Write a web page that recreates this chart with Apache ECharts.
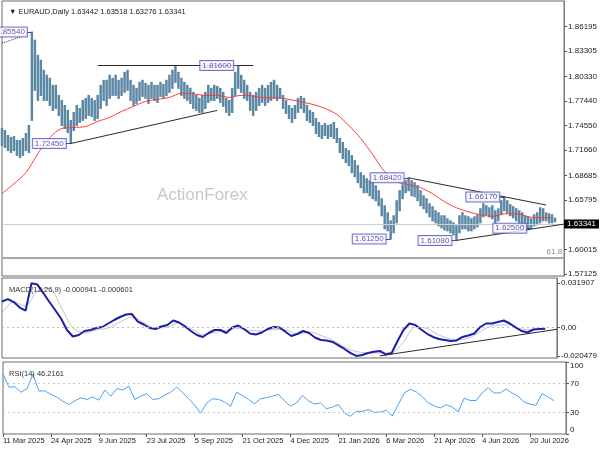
<!DOCTYPE html>
<html><head><meta charset="utf-8">
<script src="https://cdn.jsdelivr.net/npm/echarts@6/dist/echarts.min.js"></script>
<style>html,body{margin:0;padding:0;background:#fff}#c{width:600px;height:450px}</style>
</head><body><div id="c"></div>
<script>
const symbolName = 'EURAUD,Daily';
const lastOHLC = ['1.63442', '1.63518', '1.63276', '1.63341'];
const macdLast = ['-0.000941', '-0.000601'];
const rsiLast = '46.2161';
const dateTicks = ['11 Mar 2025', '24 Apr 2025', '9 Jun 2025', '23 Jul 2025', '5 Sep 2025', '21 Oct 2025', '4 Dec 2025', '21 Jan 2026', '6 Mar 2026', '21 Apr 2026', '4 Jun 2026', '20 Jul 2026'];
const priceTicks = [1.57125, 1.60015, 1.62905, 1.65795, 1.68685, 1.71660, 1.74550, 1.77440, 1.80330, 1.83305, 1.86195];
const macdTicks = [-0.020479, 0, 0.031907];
const rsiTicks = [0, 30, 70, 100];

// one bar = two trading days
const priceHigh = [1.7422,1.7398,1.7339,1.7316,1.7327,1.7280,1.7280,1.7304,1.7363,1.7457,
1.8554,1.8458,1.8281,1.8223,1.8105,1.8046,1.8011,1.7928,1.7928,1.7810,
1.7751,1.7692,1.7634,1.7516,1.7610,1.7692,1.7657,1.7751,1.7775,1.7810,
1.7775,1.7751,1.7810,1.7928,1.7987,1.7987,1.8046,1.8011,1.8046,1.7987,
1.8011,1.8081,1.8105,1.7987,1.7928,1.7893,1.7963,1.7987,1.7952,1.7928,
1.7963,1.7928,1.7928,1.7963,1.7940,1.7987,1.8046,1.8105,1.8160,1.8081,
1.8011,1.7963,1.7928,1.7893,1.7846,1.7810,1.7775,1.7810,1.7846,1.7928,
1.7893,1.7928,1.7916,1.7893,1.7846,1.7775,1.7751,1.7893,1.8081,1.8160,
1.8046,1.7987,1.7928,1.7846,1.7810,1.7846,1.7893,1.7928,1.7893,1.7928,
1.7963,1.7987,1.7928,1.7893,1.7810,1.7751,1.7692,1.7657,1.7692,1.7775,
1.7798,1.7775,1.7692,1.7634,1.7610,1.7539,1.7493,1.7457,1.7481,1.7457,
1.7469,1.7493,1.7422,1.7304,1.7257,1.7186,1.7162,1.7104,1.7045,1.6986,
1.6903,1.6868,1.6832,1.6809,1.6785,1.6750,1.6691,1.6597,1.6515,1.6432,
1.6338,1.6397,1.6574,1.6691,1.6762,1.6809,1.6842,1.6809,1.6785,1.6750,
1.6691,1.6632,1.6597,1.6538,1.6503,1.6456,1.6432,1.6397,1.6397,1.6362,
1.6338,1.6314,1.6279,1.6397,1.6432,1.6397,1.6385,1.6362,1.6385,1.6409,
1.6480,1.6538,1.6515,1.6491,1.6515,1.6456,1.6480,1.6574,1.6617,1.6574,
1.6527,1.6503,1.6480,1.6456,1.6432,1.6397,1.6385,1.6362,1.6409,1.6432,
1.6491,1.6480,1.6432,1.6420,1.6409,1.6370];
const priceLow = [1.7221,1.7198,1.7162,1.7139,1.7162,1.7104,1.7080,1.7104,1.7162,1.7139,
1.7516,1.7869,1.7751,1.7810,1.7751,1.7751,1.7692,1.7634,1.7657,1.7575,
1.7457,1.7422,1.7375,1.7245,1.7398,1.7457,1.7493,1.7516,1.7539,1.7575,
1.7563,1.7516,1.7539,1.7657,1.7751,1.7692,1.7775,1.7810,1.7810,1.7775,
1.7810,1.7846,1.7869,1.7751,1.7692,1.7716,1.7751,1.7798,1.7775,1.7716,
1.7775,1.7751,1.7728,1.7798,1.7775,1.7810,1.7846,1.7893,1.7963,1.7893,
1.7810,1.7775,1.7751,1.7716,1.7657,1.7634,1.7610,1.7610,1.7657,1.7728,
1.7751,1.7751,1.7775,1.7728,1.7681,1.7610,1.7575,1.7610,1.7810,1.7893,
1.7846,1.7775,1.7751,1.7634,1.7575,1.7634,1.7692,1.7728,1.7692,1.7728,
1.7751,1.7775,1.7751,1.7775,1.7657,1.7598,1.7539,1.7493,1.7539,1.7610,
1.7657,1.7610,1.7516,1.7493,1.7457,1.7363,1.7327,1.7304,1.7339,1.7304,
1.7327,1.7304,1.7257,1.7139,1.7068,1.7021,1.6986,1.6903,1.6856,1.6785,
1.6726,1.6668,1.6668,1.6632,1.6597,1.6574,1.6515,1.6397,1.6244,1.6220,
1.6125,1.6197,1.6314,1.6456,1.6597,1.6668,1.6691,1.6632,1.6621,1.6574,
1.6515,1.6480,1.6432,1.6385,1.6338,1.6314,1.6279,1.6256,1.6232,1.6220,
1.6197,1.6173,1.6108,1.6197,1.6244,1.6244,1.6220,1.6220,1.6244,1.6267,
1.6314,1.6385,1.6409,1.6385,1.6362,1.6314,1.6338,1.6409,1.6456,1.6432,
1.6397,1.6373,1.6338,1.6314,1.6267,1.6267,1.6256,1.6250,1.6279,1.6291,
1.6314,1.6338,1.6338,1.6314,1.6314,1.6328];

// moving average, one value every 4 bars
const maValues = [1.6656,1.6774,1.6903,1.7127,1.7315,1.7422,1.7433,1.7445,1.7504,1.7551,
1.7622,1.7681,1.7740,1.7763,1.7787,1.7834,1.7828,1.7810,1.7810,1.7787,
1.7810,1.7804,1.7781,1.7781,1.7763,1.7734,1.7704,1.7657,1.7586,1.7457,
1.7304,1.7115,1.6915,1.6797,1.6762,1.6727,1.6656,1.6562,1.6491,1.6444,
1.6409,1.6391,1.6420,1.6420,1.6385,1.6373,1.6373];

// MACD main line, one value every 2 bars
const macdValues = [0.01872,0.02052,0.01836,0.0144,0.01224,0.031907,0.03096,0.02484,0.01858,0.0126,
0.00648,-0.0018,-0.00648,-0.0054,-0.00252,-0.0018,-0.00036,0.00036,0.00288,0.0054,
0.00756,0.00936,0.00972,0.00418,0.00216,-0.00036,-0.00108,0.00072,0.0018,0.00504,
0.0036,0.00072,-0.00252,-0.0054,-0.00684,-0.00396,-0.0018,-0.0018,-0.00396,0,
0.00144,-0.00108,-0.00432,-0.00504,-0.0036,-0.00108,0.00036,0,-0.00302,-0.00612,
-0.00468,-0.00252,-0.00396,-0.0072,-0.009,-0.00936,-0.01044,-0.01296,-0.01548,-0.01836,
-0.020479,-0.0198,-0.01836,-0.01742,-0.01692,-0.01944,-0.01836,-0.00972,-0.0018,0.00288,
0.0018,-0.00144,-0.00454,-0.00684,-0.00828,-0.009,-0.00972,-0.00936,-0.00684,-0.00576,
-0.00432,0.00036,0.00288,0.00288,0.00396,0.00504,0.00288,0.00014,-0.00252,-0.0036,
-0.00144,-0.00108,-0.000941];
// MACD signal line, one value every 4 bars
const signalValues = [0.01044,0.01836,0.01548,0.0265,0.0282,0.01476,-0.00036,-0.00396,-0.0018,-0.00036,
0.00396,0.00756,0.0036,-0.00036,0.00036,0.00324,-0.00072,-0.00504,-0.0036,-0.00216,
-0.00072,-0.00216,-0.00252,-0.00144,-0.0018,-0.00468,-0.00324,-0.00576,-0.009,-0.01404,
-0.01728,-0.01836,-0.01836,-0.01836,-0.01044,0.00036,-0.00072,-0.0054,-0.00828,-0.00864,
-0.00576,-0.00036,0.0018,0.0018,-0.00108,-0.0018,-0.000601];
// RSI(14), one value every 2 bars
const rsiValues = [83,65,65.5,58,63,83,59.6,60,55,51,
45.5,41,46,50.3,48,51.5,47,61,52.5,63,
61,66.6,48,52.5,56,48,49,54,58,65,
57.3,49,40,29.1,43,49,48,44.5,38.5,58,
53.5,47.9,42,49,50.5,52.5,55,46,38.5,43,
53.5,46,41.5,43.2,35,37.5,40.8,29.5,24.5,31.5,
31.5,33.8,30,30.5,33,25,41,57,62,58.5,
52,43,39,36.2,40.5,37.5,31,49.5,46.5,46.5,
57,64.3,57,57,62.5,57,52.5,44.5,41.5,40,
56,51.5,46.2161];

const annText = ['1.85540', '1.72450', '1.81600', '1.68420', '1.61250', '1.61080', '1.66170', '1.62500'];
const annBar = [10, 23, 79, 136, 130, 152, 168, 177];
const annPrice = [1.8554, 1.7245, 1.8160, 1.6842, 1.6125, 1.6108, 1.6617, 1.6250];

const supportLine = [[23, 1.7245], [72, 1.7634]];
const topLine = [[32, 1.8165], [84, 1.8165]];
const oldLine = [[0, 1.8423], [8, 1.8517]];
const fallingLine = [[136, 1.6842], [182, 1.6523]];
const risingLine = [[152, 1.6108], [188, 1.6299]];
const macdLine = [[128, -0.0205], [188, -0.0013]];
const lastPrice = 1.63341;
const fibLevel = 1.5902;
const fibText = '61.8';

const slotCount = 189;
const tickEvery = 16;
const categories = Array.from({length: slotCount}, (_, i) => 'b' + i);

const FONT = 'Liberation Sans';
const chart = echarts.init(document.getElementById('c'), null, {renderer: 'canvas'});

const barData = priceHigh.map((h, i) => [i, priceLow[i], h]);
const stepData = (arr, step) => arr.map((v, k) => [k * step, v]);
const seg = (pair, extra) => [Object.assign({coord: pair[0]}, extra || {}), {coord: pair[1]}];
const trendStyle = {lineStyle: {color: '#2a2a2a', width: 1, type: 'solid'}};

function xAx(g, showLabels) {
  return {
    type: 'category', gridIndex: g, data: categories, boundaryGap: false,
    axisLine: {show: false},
    axisTick: {show: showLabels, interval: (i) => i % tickEvery === 0, length: 3, inside: false,
      lineStyle: {color: '#555'}},
    axisLabel: {show: showLabels, interval: (i) => i % tickEvery === 0,
      formatter: (v, i) => dateTicks[i / tickEvery] || '',
      align: 'left', fontSize: 7.5, color: '#202020', margin: 3, fontFamily: FONT},
    splitLine: {show: false}
  };
}
const yCommon = {
  type: 'value', position: 'right',
  axisLine: {show: true, lineStyle: {color: '#777'}},
  splitLine: {show: false}
};

chart.setOption({
  animation: false,
  textStyle: {fontFamily: FONT},
  title: [
    {text: '\u25BC ' + symbolName + ' ' + lastOHLC.join(' '), left: 4, top: 3,
      textStyle: {fontSize: 7.5, fontWeight: 'normal', color: '#202020', fontFamily: FONT}},
    {text: 'MACD(12,26,9) ' + macdLast.join(' '), left: 4, top: 281,
      textStyle: {fontSize: 7.5, fontWeight: 'normal', color: '#303030', fontFamily: FONT}},
    {text: 'RSI(14) ' + rsiLast, left: 4, top: 365,
      textStyle: {fontSize: 7.5, fontWeight: 'normal', color: '#303030', fontFamily: FONT}}
  ],
  graphic: [{type: 'text', left: 157, top: 187, z: 0,
    style: {text: 'ActionForex', fontSize: 17, fill: '#c8c8c8', fontFamily: FONT}}],
  grid: [
    {left: 2, right: 34, top: 1, height: 275, show: true, borderColor: '#6a6a6a', borderWidth: 1},
    {left: 2, right: 34, top: 278, height: 80, show: true, borderColor: '#6a6a6a', borderWidth: 1},
    {left: 2, right: 34, top: 362, height: 72, show: true, borderColor: '#6a6a6a', borderWidth: 1}
  ],
  xAxis: [xAx(0, false), xAx(1, false), xAx(2, true)],
  yAxis: [
    Object.assign({}, yCommon, {gridIndex: 0, min: 1.5690, max: 1.8918,
      axisTick: {show: true, customValues: priceTicks, length: 3, lineStyle: {color: '#555'}},
      axisLabel: {customValues: priceTicks, formatter: (v) => v.toFixed(5), fontSize: 8, color: '#202020', margin: 4, fontFamily: FONT}}),
    Object.assign({}, yCommon, {gridIndex: 1, min: -0.022, max: 0.0357,
      axisTick: {show: true, customValues: macdTicks, length: 3, lineStyle: {color: '#555'}},
      axisLabel: {customValues: macdTicks, formatter: (v) => v === 0 ? '0.00' : v.toFixed(6), fontSize: 8, color: '#202020', margin: 4, fontFamily: FONT}}),
    Object.assign({}, yCommon, {gridIndex: 2, min: 0, max: 100,
      axisTick: {show: true, customValues: rsiTicks, length: 3, lineStyle: {color: '#555'}},
      axisLabel: {customValues: rsiTicks, formatter: (v) => String(v), fontSize: 8, color: '#202020', margin: 4, fontFamily: FONT,
        verticalAlignMaxLabel: 'top', verticalAlignMinLabel: 'bottom'}})
  ],
  series: [
    {type: 'custom', xAxisIndex: 0, yAxisIndex: 0, data: barData, z: 3,
      encode: {x: 0, y: [1, 2]},
      renderItem: (params, api) => {
        const lo = api.coord([api.value(0), api.value(1)]);
        const hi = api.coord([api.value(0), api.value(2)]);
        return {type: 'line', shape: {x1: lo[0], y1: lo[1] + 0.5, x2: hi[0], y2: hi[1] - 0.5},
          style: {stroke: '#5d88a4', lineWidth: 2.5}};
      },
      markLine: {silent: true, symbol: 'none', animation: false,
        label: {show: false},
        data: [
          {yAxis: lastPrice, lineStyle: {color: '#cfcfcf', width: 1, type: 'solid'},
            label: {show: true, position: 'end', formatter: lastOHLC[3], backgroundColor: '#000', color: '#fff',
              padding: [1, 3, 0, 3], fontSize: 8, distance: 0, fontFamily: FONT}},
          {yAxis: fibLevel, lineStyle: {color: '#a3aaaa', width: 2, type: 'solid'},
            label: {show: true, position: 'insideEndTop', formatter: fibText, color: '#8a8a8a', fontSize: 8, distance: 2, fontFamily: FONT}},
          seg(supportLine, trendStyle),
          seg(topLine, trendStyle),
          seg(oldLine, {lineStyle: {color: '#2a2a2a', width: 1, type: 'dotted'}}),
          seg(fallingLine, trendStyle),
          seg(risingLine, trendStyle)
        ]}},
    {type: 'line', name: 'MA', xAxisIndex: 0, yAxisIndex: 0, data: stepData(maValues, 4),
      showSymbol: false, symbol: 'none', smooth: 0.3, z: 4, lineStyle: {color: '#ff3a3a', width: 1}},
    {type: 'scatter', xAxisIndex: 0, yAxisIndex: 0, symbolSize: 0, z: 6,
      data: annBar.map((b, k) => ({value: [b, annPrice[k]], label: {formatter: annText[k]}})),
      label: {show: true, position: 'left', distance: 5, fontSize: 8, color: '#2b2b8f', fontFamily: FONT,
        backgroundColor: '#fff', borderColor: '#5050c8', borderWidth: 1, padding: [1, 2, 0, 2]},
      markLine: {silent: true, symbol: 'none', label: {show: false},
        lineStyle: {color: '#4646b0', width: 1, type: 'solid'},
        data: annBar.map((b, k) => [{coord: [b - 2, annPrice[k]]}, {coord: [b, annPrice[k]]}])}},
    {type: 'line', name: 'Signal', xAxisIndex: 1, yAxisIndex: 1, data: stepData(signalValues, 4),
      symbol: 'none', smooth: 0.3, z: 3, lineStyle: {color: '#c4c4c4', width: 1}},
    {type: 'line', name: 'MACD', xAxisIndex: 1, yAxisIndex: 1, data: stepData(macdValues, 2),
      symbol: 'none', z: 4, lineStyle: {color: '#1e1ea8', width: 2},
      markLine: {silent: true, symbol: 'none', label: {show: false},
        data: [
          {yAxis: 0, lineStyle: {color: '#bdbdbd', width: 1, type: [2, 3]}},
          seg(macdLine, trendStyle)
        ]}},
    {type: 'line', name: 'RSI', xAxisIndex: 2, yAxisIndex: 2, data: stepData(rsiValues, 2),
      symbol: 'none', z: 4, lineStyle: {color: '#4aa0f5', width: 1},
      markLine: {silent: true, symbol: 'none', label: {show: false},
        lineStyle: {color: '#c8c8c8', width: 1, type: [2, 3]},
        data: [{yAxis: 70}, {yAxis: 30}]}}
  ]
});
</script></body></html>
